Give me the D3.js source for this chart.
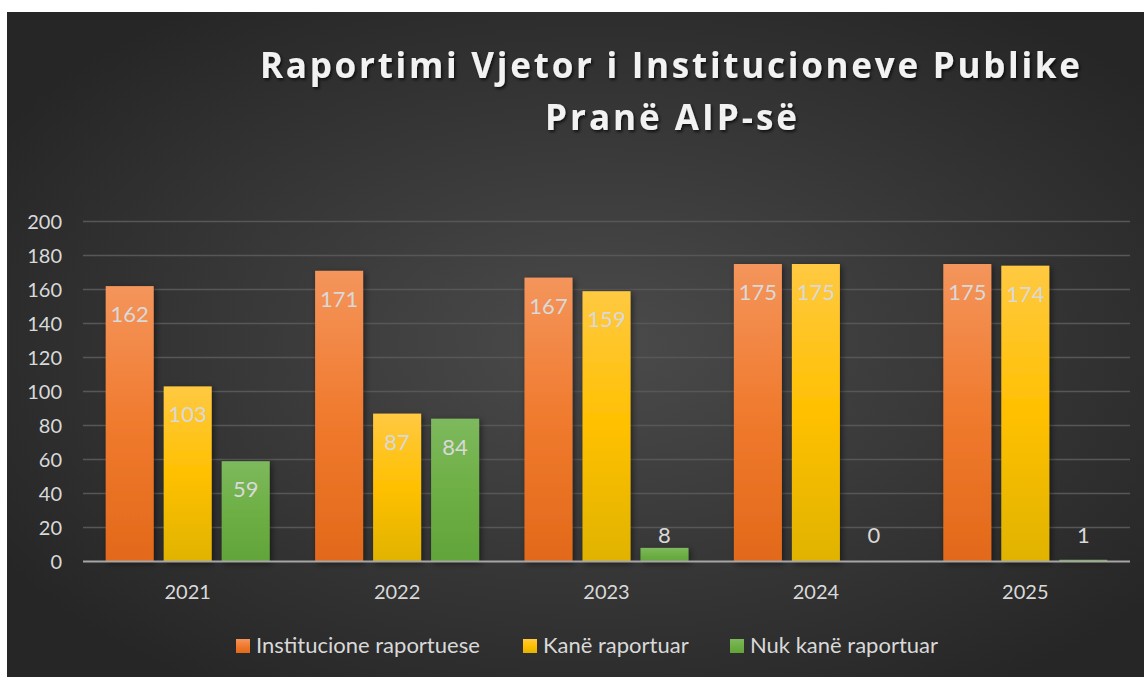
<!DOCTYPE html>
<html>
<head>
<meta charset="utf-8">
<script src="https://cdn.jsdelivr.net/npm/d3@7"></script>
<style>
  body { margin: 0; background: #fff; }
  svg { display: block; }
</style>
</head>
<body>
<svg id="chart" width="1144" height="677"></svg>
<script>
// data
const years = ["2021", "2022", "2023", "2024", "2025"];
const seriesNames = ["Institucione raportuese", "Kanë raportuar", "Nuk kanë raportuar"];
const institucione = [162, 171, 167, 175, 175];
const raportuar = [103, 87, 159, 175, 174];
const paRaportuar = [59, 84, 8, 0, 1];
const yTicks = [0, 20, 40, 60, 80, 100, 120, 140, 160, 180, 200];

const colors = [
  ["#f4955c", "#f07a2e", "#e2691a"],
  ["#ffc942", "#ffc000", "#e0b300"],
  ["#7db95d", "#6eaf45", "#61a43a"]
];

const svg = d3.select("#chart");
const W = 1144, H = 677;

const defs = svg.append("defs");

// background radial gradient
const bg = defs.append("radialGradient").attr("id", "bg")
  .attr("cx", "52%").attr("cy", "50%").attr("r", "62%");
bg.append("stop").attr("offset", "0%").attr("stop-color", "#4b4b4b");
bg.append("stop").attr("offset", "100%").attr("stop-color", "#262626");

colors.forEach((c, i) => {
  const g = defs.append("linearGradient").attr("id", "g" + i)
    .attr("x1", 0).attr("y1", 0).attr("x2", 0).attr("y2", 1);
  g.append("stop").attr("offset", "0%").attr("stop-color", c[0]);
  g.append("stop").attr("offset", "50%").attr("stop-color", c[1]);
  g.append("stop").attr("offset", "100%").attr("stop-color", c[2]);
});

const shadow = defs.append("filter").attr("id", "shadow")
  .attr("x", "-30%").attr("y", "-10%").attr("width", "160%").attr("height", "130%");
shadow.append("feDropShadow").attr("dx", 2).attr("dy", 2)
  .attr("stdDeviation", 3).attr("flood-color", "#000").attr("flood-opacity", 0.5);

const tshadow = defs.append("filter").attr("id", "tshadow");
tshadow.append("feDropShadow").attr("dx", 1.5).attr("dy", 2)
  .attr("stdDeviation", 1.5).attr("flood-color", "#000").attr("flood-opacity", 0.7);

svg.append("rect").attr("x", 7).attr("y", 12).attr("width", W - 7).attr("height", H - 12)
  .attr("fill", "url(#bg)");

// title
const title = svg.append("g").attr("filter", "url(#tshadow)")
  .attr("font-family", "'Open Sans', sans-serif").attr("font-weight", 700)
  .attr("font-size", 35).attr("fill", "#f2f2f2").attr("text-anchor", "middle");
title.append("text").attr("x", 670).attr("y", 78)
  .attr("textLength", 820).attr("lengthAdjust", "spacing")
  .text("Raportimi Vjetor i Institucioneve Publike");
title.append("text").attr("x", 671).attr("y", 130)
  .attr("textLength", 252).attr("lengthAdjust", "spacing")
  .text("Pranë AIP-së");

// scales
const margin = { left: 83, right: 14 };
const x0 = d3.scaleBand().domain(years).range([margin.left, W - margin.right]);
const y = d3.scaleLinear().domain([0, 200]).range([561.5, 221.5]);

const barW = 48, gap = 10;
const groupW = barW * 3 + gap * 2;
const barX = (i, si) => x0(years[i]) + (x0.bandwidth() - groupW) / 2 + si * (barW + gap);

// gridlines
svg.append("g").selectAll("line").data(yTicks.slice(1)).join("line")
  .attr("x1", margin.left).attr("x2", W - margin.right)
  .attr("y1", d => y(d)).attr("y2", d => y(d))
  .attr("stroke", "#575757").attr("stroke-width", 1.5);

// y axis labels
const yAxis = svg.append("g").attr("transform", `translate(${margin.left - 21},0)`)
  .call(d3.axisLeft(y).tickValues(yTicks).tickSize(0).tickPadding(0));
yAxis.select(".domain").remove();
yAxis.selectAll("text").attr("font-family", "Lato, sans-serif").attr("font-size", 20)
  .attr("fill", "#d9d9d9").attr("dy", "0.35em");

const series = [institucione, raportuar, paRaportuar];

const bars = svg.append("g");
series.forEach((vals, si) => {
  const gs = bars.append("g").attr("filter", "url(#shadow)");
  gs.selectAll("rect").data(vals).join("rect")
    .attr("x", (d, i) => barX(i, si))
    .attr("y", d => y(d))
    .attr("width", barW)
    .attr("height", d => y(0) - y(d))
    .attr("fill", `url(#g${si})`);
});

// baseline
svg.append("line").attr("x1", margin.left).attr("x2", W - margin.right)
  .attr("y1", y(0)).attr("y2", y(0)).attr("stroke", "#a6a6a6").attr("stroke-width", 2);

// data labels: inside end, small bars get the label above
series.forEach((vals, si) => {
  svg.append("g").selectAll("text").data(vals).join("text")
    .attr("x", (d, i) => barX(i, si) + barW / 2)
    .attr("y", d => (y(0) - y(d) > 40) ? y(d) + 36 : Math.min(y(d) - 5, y(0) - 18.5))
    .attr("text-anchor", "middle")
    .attr("font-family", "Lato, sans-serif").attr("font-size", 22)
    .attr("fill", "#d9d9d9")
    .text(d => d);
});

// x axis labels
const xAxis = svg.append("g").attr("transform", `translate(0,${y(0)})`)
  .call(d3.axisBottom(x0).tickSize(0).tickPadding(23));
xAxis.select(".domain").remove();
xAxis.selectAll("text").attr("font-family", "Lato, sans-serif").attr("font-size", 20)
  .attr("fill", "#d9d9d9").attr("dy", "0.71em");

// legend
const legendX = [236, 523, 730];
const legend = svg.append("g");
seriesNames.forEach((n, i) => {
  legend.append("rect").attr("x", legendX[i]).attr("y", 639).attr("width", 14).attr("height", 14)
    .attr("fill", `url(#g${i})`);
  legend.append("text").attr("x", legendX[i] + 20).attr("y", 653)
    .attr("font-family", "Lato, sans-serif").attr("font-size", 22)
    .attr("fill", "#d9d9d9").text(n);
});
</script>
</body>
</html>
